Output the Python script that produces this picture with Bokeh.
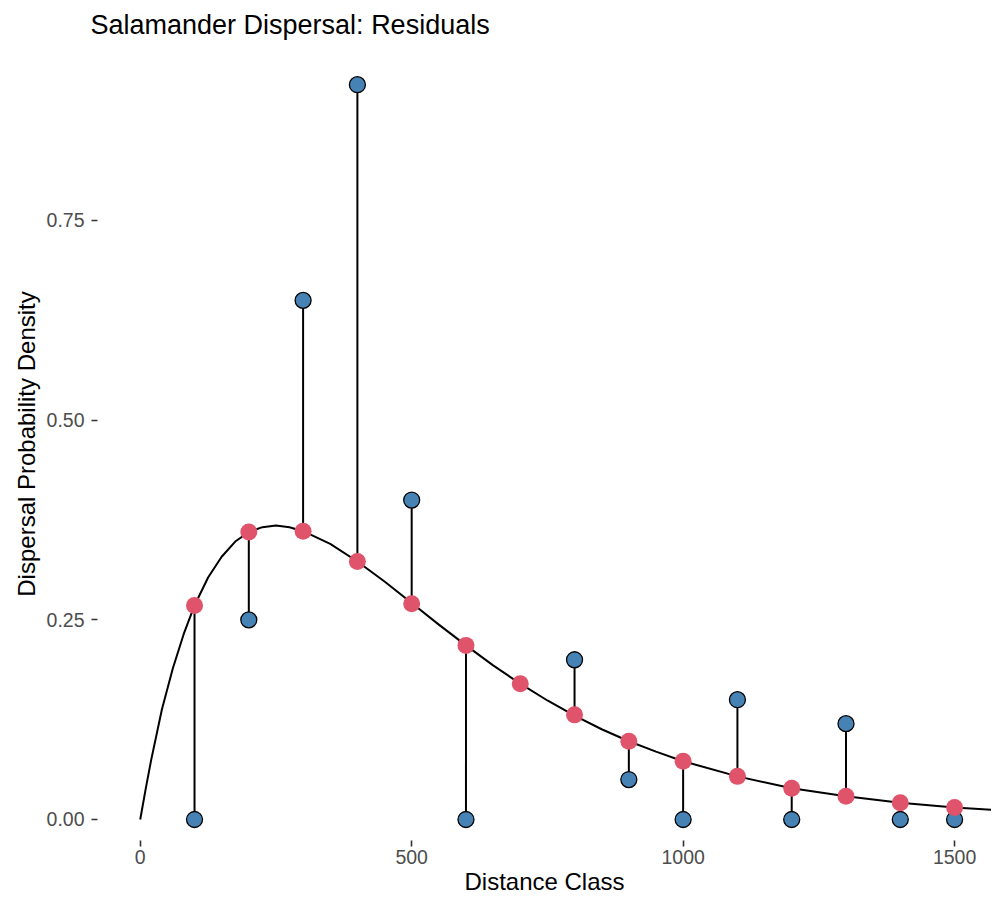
from bokeh.plotting import figure
from bokeh.models import Range1d, FixedTicker, ColumnDataSource
from bokeh.embed import file_html
from bokeh.resources import INLINE

# ---- data ----
distance = [100, 200, 300, 400, 500, 600, 700, 800, 900, 1000, 1100, 1200, 1300, 1400, 1500]
observed = [0.0, 0.25, 0.65, 0.92, 0.40, 0.0, float("nan"), 0.20, 0.05, 0.0, 0.15, 0.0, 0.12, 0.0, 0.0]
predicted = [0.268, 0.360, 0.361, 0.323, 0.270, 0.218, 0.170, 0.131, 0.098, 0.073,
             0.054, 0.039, 0.029, 0.021, 0.015]

curve_x = [0, 10, 20, 40, 60, 80, 100, 125, 150, 175, 200, 225, 250, 275, 300, 350, 400,
           450, 500, 550, 600, 650, 700, 750, 800, 850, 900, 950, 1000, 1100, 1200, 1300,
           1400, 1500, 1600]
curve_y = [0.0, 0.038, 0.074, 0.138, 0.189, 0.232, 0.268, 0.303, 0.329, 0.348, 0.360,
           0.366, 0.368, 0.366, 0.361, 0.345, 0.323, 0.298, 0.271, 0.244, 0.218, 0.193,
           0.170, 0.149, 0.130, 0.113, 0.098, 0.085, 0.073, 0.054, 0.039, 0.029, 0.021,
           0.015, 0.011]

x_ticks = [0, 500, 1000, 1500]
y_ticks = [0.0, 0.25, 0.50, 0.75]
y_tick_labels = ["0.00", "0.25", "0.50", "0.75"]

title_text = "Salamander Dispersal: Residuals"
x_title = "Distance Class"
y_title = "Dispersal Probability Density"

FONT = "Liberation Sans"

pts = ColumnDataSource(dict(x=distance, obs=observed, pred=predicted))

p = figure(width=991, height=898, output_backend="svg", toolbar_location=None,
           x_range=Range1d(-78.7, 1568), y_range=Range1d(-0.0263, 0.9666),
           min_border_left=97, min_border_right=0, min_border_top=47, min_border_bottom=58,
           title=title_text)

p.background_fill_color = "white"
p.border_fill_color = "white"
p.outline_line_color = None
p.grid.grid_line_color = None

p.title.text_font = FONT
p.title.text_font_size = "27px"
p.title.text_font_style = "normal"
p.title.text_color = "black"
p.title.align = "left"
p.title.offset = -7
p.title.standoff = 15

for ax in (p.xaxis[0], p.yaxis[0]):
    ax.axis_line_color = None
    ax.major_tick_line_color = "#333333"
    ax.major_tick_line_width = 1.6
    ax.major_tick_out = 6
    ax.major_tick_in = 0
    ax.minor_tick_line_color = None
    ax.major_label_text_font = FONT
    ax.major_label_text_font_size = "19.5px"
    ax.major_label_text_color = "#4D4D4D"
    ax.axis_label_text_font = FONT
    ax.axis_label_text_font_size = "24px"
    ax.axis_label_text_font_style = "normal"
    ax.axis_label_text_color = "black"

p.xaxis[0].ticker = FixedTicker(ticks=x_ticks)
p.xaxis[0].major_label_standoff = 3
p.xaxis[0].axis_label = x_title
p.xaxis[0].axis_label_standoff = 1

p.yaxis[0].ticker = FixedTicker(ticks=y_ticks)
p.yaxis[0].major_label_overrides = {t: l for t, l in zip(y_ticks, y_tick_labels)}
p.yaxis[0].major_label_standoff = 7
p.yaxis[0].axis_label = y_title
p.yaxis[0].axis_label_standoff = 4

# fitted curve
p.line(curve_x, curve_y, line_color="black", line_width=2.0, line_join="round")
# residual segments
p.segment(x0="x", y0="pred", x1="x", y1="obs", source=pts, line_color="black", line_width=2.0)
# observed
p.scatter(x="x", y="obs", source=pts, size=16, fill_color="#4682B4",
          line_color="black", line_width=1.3)
# predicted
p.scatter(x="x", y="pred", source=pts, size=17, fill_color="#DF536B", line_color=None)

open("out.html", "w").write(file_html(p, INLINE))
